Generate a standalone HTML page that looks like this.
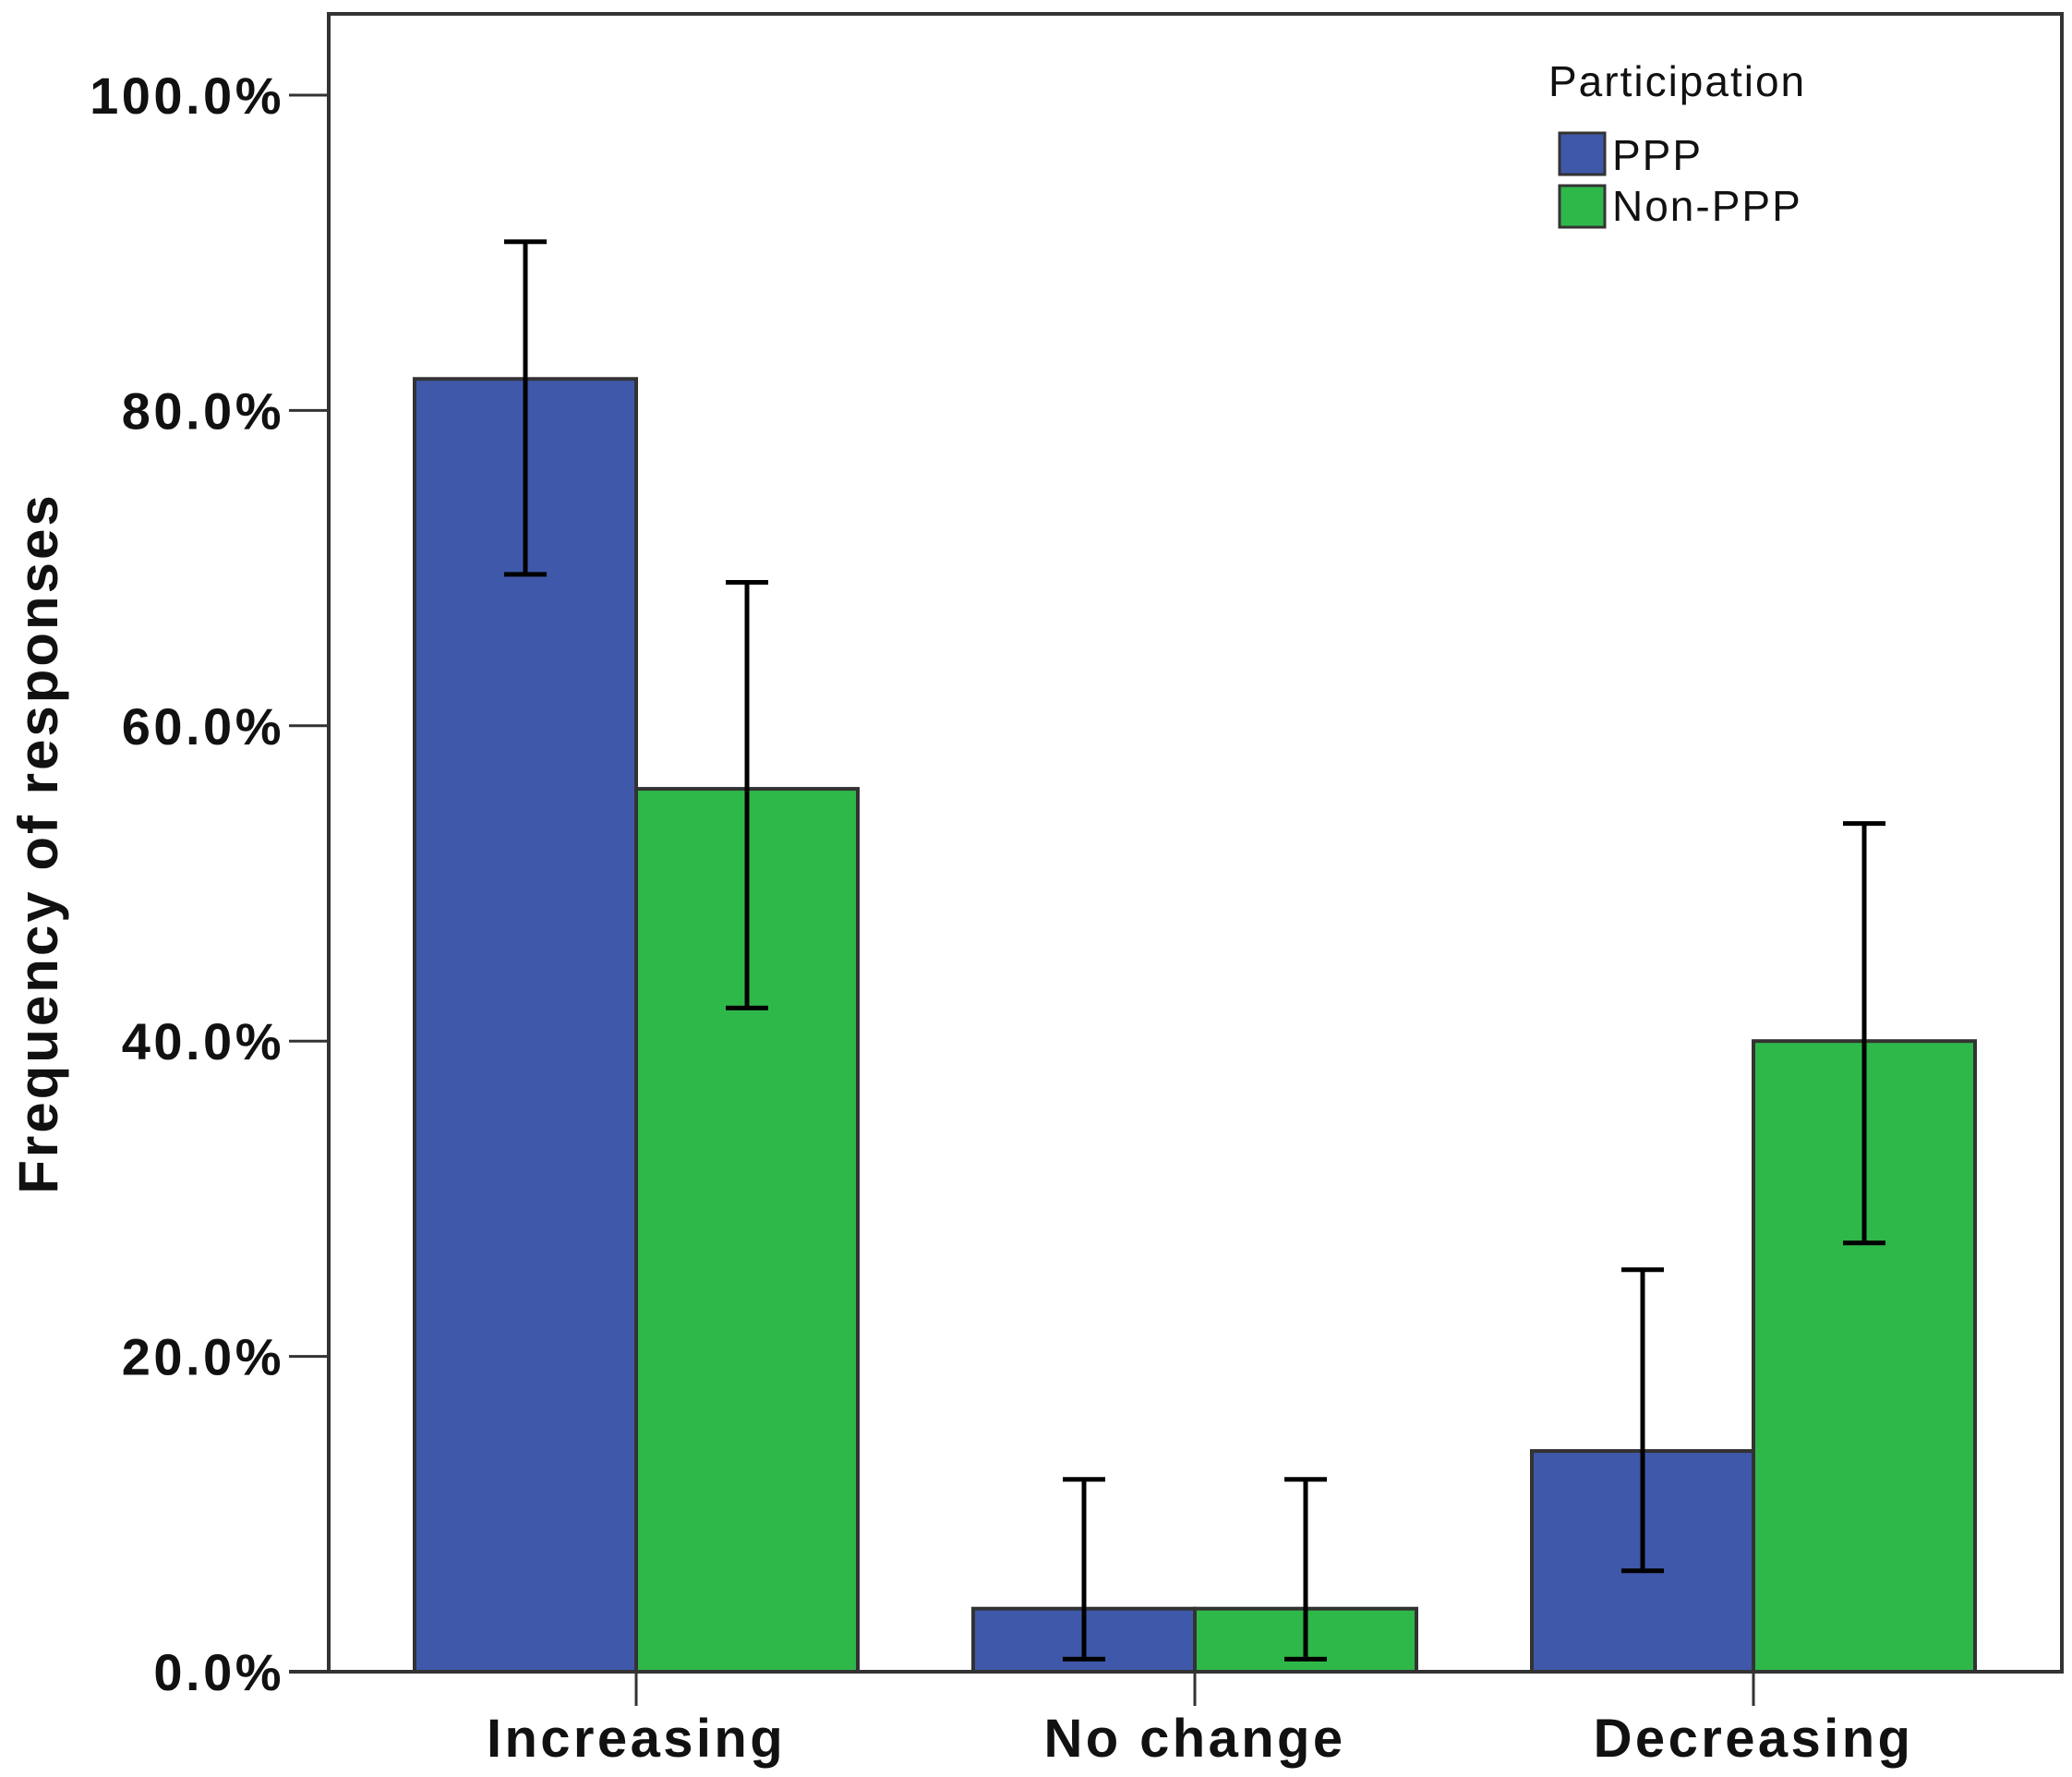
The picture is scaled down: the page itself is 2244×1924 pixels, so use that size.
<!DOCTYPE html>
<html><head><meta charset="utf-8"><style>
html,body{margin:0;padding:0;background:#fff;}
svg{display:block;font-family:"Liberation Sans",sans-serif;}
</style></head><body>
<svg id="chart" width="2244" height="1924" viewBox="0 0 2244 1924">
<rect x="356" y="15" width="1877" height="1795" fill="#fff" stroke="#333" stroke-width="4"/>
<g id="yaxis"></g>
<g id="bars"></g>
<g id="xaxis"></g>
<text x="62" y="913" transform="rotate(-90 62 913)" text-anchor="middle" font-size="60" font-weight="bold" letter-spacing="3" fill="#111">Frequency of responses</text>
<g letter-spacing="2">
<text x="1677" y="104" font-size="46" fill="#111">Participation</text>
<rect x="1689" y="144" width="49" height="45" fill="#3f58aa" stroke="#333" stroke-width="3"/>
<text x="1746" y="184" font-size="46" fill="#111">PPP</text>
<rect x="1689" y="201" width="49" height="45" fill="#2fb84a" stroke="#333" stroke-width="3"/>
<text x="1746" y="239" font-size="46" fill="#111">Non-PPP</text>
</g>
</svg>
<script>
const categories = ["Increasing", "No change", "Decreasing"];
const pppValues = [82, 4, 14];
const nonValues = [56, 4, 40];
const pppLow = [69.6, 0.8, 6.4];
const pppHigh = [90.7, 12.2, 25.5];
const nonLow = [42.1, 0.8, 27.2];
const nonHigh = [69.1, 12.2, 53.8];
const yTicks = [0, 20, 40, 60, 80, 100];
const yTickLabels = ["0.0%", "20.0%", "40.0%", "60.0%", "80.0%", "100.0%"];

const NS = "http://www.w3.org/2000/svg";
const y = v => 1810 - v * 17.07;
const catX = i => 689 + i * 605;
const barW = 240;
function mk(tag, attrs, parent) {
  const e = document.createElementNS(NS, tag);
  for (const k in attrs) e.setAttribute(k, attrs[k]);
  parent.appendChild(e);
  return e;
}
const ya = document.getElementById("yaxis");
yTicks.forEach((t, i) => {
  const l = mk("line", {x1: 313, x2: 356, y1: y(t), y2: y(t), stroke: "#333", "stroke-width": 3}, ya);
  
  
  const tx = mk("text", {x: 308, y: y(t) + 20, "text-anchor": "end", "font-size": 56, "font-weight": "bold", "letter-spacing": 3.5, fill: "#111"}, ya);
  tx.textContent = yTickLabels[i];
  
  
});
const bg = document.getElementById("bars");
function bar(x, v, color, name) {
  const r = mk("rect", {x: x, y: y(v), width: barW, height: y(0) - y(v), fill: color, stroke: "#333", "stroke-width": 4}, bg);
  
  
}
function err(cx, lo, hi, name) {
  const g = mk("g", {stroke: "#000", "stroke-width": 5}, bg);
  
  
  mk("line", {x1: cx, x2: cx, y1: y(lo), y2: y(hi)}, g);
  mk("line", {x1: cx - 23, x2: cx + 23, y1: y(lo), y2: y(lo)}, g);
  mk("line", {x1: cx - 23, x2: cx + 23, y1: y(hi), y2: y(hi)}, g);
}
categories.forEach((c, i) => {
  const cx = catX(i);
  bar(cx - barW, pppValues[i], "#3f58aa", "bar-ppp-" + i);
  bar(cx, nonValues[i], "#2fb84a", "bar-nonppp-" + i);
});
categories.forEach((c, i) => {
  const cx = catX(i);
  err(cx - barW / 2, pppLow[i], pppHigh[i], "error-bar-ppp-" + i);
  err(cx + barW / 2, nonLow[i], nonHigh[i], "error-bar-nonppp-" + i);
});
const xa = document.getElementById("xaxis");
const ax = mk("line", {x1: 313, x2: 2233, y1: 1810, y2: 1810, stroke: "#333", "stroke-width": 4}, xa);


categories.forEach((c, i) => {
  const l = mk("line", {x1: catX(i), x2: catX(i), y1: 1810, y2: 1847, stroke: "#333", "stroke-width": 3}, xa);
  
  
  const t = mk("text", {x: catX(i), y: 1902, "text-anchor": "middle", "font-size": 58, "font-weight": "bold", "letter-spacing": 3.4, fill: "#111"}, xa);
  t.textContent = c;
  
  
});
</script>
</body></html>
